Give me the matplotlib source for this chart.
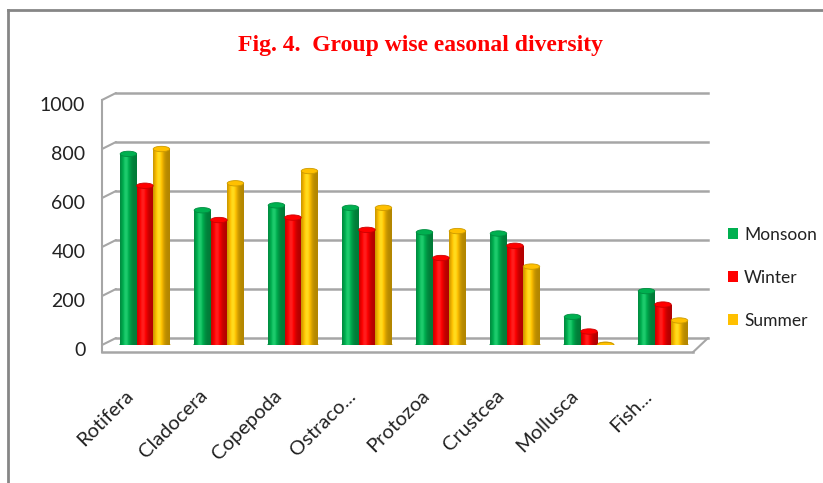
import matplotlib.pyplot as plt
import matplotlib.transforms as mtransforms
from matplotlib.patches import Ellipse, Patch
from matplotlib.lines import Line2D
import numpy as np

groups = ["Rotifera", "Cladocera", "Copepoda", "Ostraco...", "Protozoa",
          "Crustcea", "Mollusca", "Fish..."]
seasons = ["Monsoon", "Winter", "Summer"]
monsoon = [780, 550, 570, 560, 460, 455, 115, 220]
winter = [650, 510, 520, 470, 355, 405, 55, 165]
summer = [800, 660, 710, 560, 465, 320, 0, 100]
colors = ["#00B050", "#FF0000", "#FFC000"]

W, H = 823, 483
fig = plt.figure(figsize=(W / 100, H / 100), dpi=100)
ax = fig.add_axes([102 / W, (H - 345) / H, 598 / W, 245 / H])

x = np.arange(len(groups))
bw = 0.223
cap = 22  # ellipse height in data units


def shade(base):
    base = np.array(plt.matplotlib.colors.to_rgb(base))
    t = np.linspace(0, 1, 60)
    f = 0.70 + 0.42 * np.exp(-((t - 0.35) / 0.28) ** 2)
    rgb = np.clip(base[None, :] * f[:, None], 0, 1)
    hi = np.clip(f - 1.0, 0, 1)[:, None]
    rgb = rgb * (1 - hi) + hi
    return rgb[None, :, :]


for k, (vals, col) in enumerate(zip([monsoon, winter, summer], colors)):
    xs = x + (k - 1) * bw
    img = shade(col)
    dark = np.array(plt.matplotlib.colors.to_rgb(col)) * 0.8
    for xc, v in zip(xs, vals):
        ax.add_patch(Ellipse((xc, 0), bw, cap, color=dark, zorder=2.9 + k * 0.01))
        if v > 0:
            bar = ax.bar(xc, v, bw, color=col, zorder=3 + k * 0.01)[0]
            im = ax.imshow(img, extent=[xc - bw / 2, xc + bw / 2, 0, v],
                           aspect="auto", zorder=3.05 + k * 0.01)
            im.set_clip_path(bar)
        ax.add_patch(Ellipse((xc, v), bw, cap, facecolor=col, edgecolor=dark,
                             lw=0.6, zorder=3.1 + k * 0.01))

ax.set_xlim(-0.58, 7.5)
ax.set_ylim(0, 1000)
for s in ax.spines.values():
    s.set_visible(False)
ax.set_xticks([])
ax.set_yticks(range(0, 1001, 200))
ax.tick_params(axis="y", length=0, pad=12, labelsize=14)
down = mtransforms.ScaledTranslation(0, -4 / 100, fig.dpi_scale_trans)
for lab in ax.get_yticklabels():
    lab.set_fontfamily("Lato")
    lab.set_color("#222222")
    lab.set_transform(lab.get_transform() + down)

# back wall gridlines and 3D frame
grid_c = "#A6A6A6"
back = mtransforms.blended_transform_factory(ax.transAxes, ax.transData) + \
    mtransforms.ScaledTranslation(14 / 100, 7 / 100, fig.dpi_scale_trans)
front = mtransforms.blended_transform_factory(ax.transAxes, ax.transData)
for v in range(0, 1001, 200):
    ax.plot([0, 0.99], [v, v], transform=back, color=grid_c, lw=1.8,
            zorder=1, clip_on=False)
    ax.annotate("", xy=(0, v), xycoords=back, xytext=(0, v), textcoords=front,
                arrowprops=dict(arrowstyle="-", color=grid_c, lw=1.5,
                                shrinkA=0, shrinkB=0), zorder=1)
ax.plot([0, 0], [-30, 1000], transform=front, color=grid_c, lw=1.5,
        clip_on=False, zorder=1)
ax.plot([0, 0.988], [-30, -30], transform=front, color=grid_c, lw=1.8,
        clip_on=False, zorder=1)
ax.annotate("", xy=(0.988, -30), xycoords=front, xytext=(0.99, 0),
            textcoords=back,
            arrowprops=dict(arrowstyle="-", color=grid_c, lw=1.5,
                            shrinkA=0, shrinkB=0), zorder=1)

# category labels
lab_tr = mtransforms.blended_transform_factory(ax.transData, ax.transAxes) + \
    mtransforms.ScaledTranslation(-14 / 100, -48 / 100, fig.dpi_scale_trans)
for xi, g in zip(x, groups):
    ax.text(xi, 0, g, transform=lab_tr, rotation=45, ha="right", va="center",
            rotation_mode="anchor", fontsize=14.5, family="Lato",
            color="#222222")

fig.text(420 / W, 1 - 46 / H, "Fig. 4.  Group wise easonal diversity",
         ha="center", va="center", color="#FF0000", fontsize=17,
         fontweight="bold", family="Liberation Serif")

handles = [Patch(facecolor=c, edgecolor="none") for c in colors]
leg = fig.legend(handles, seasons, loc="center left",
                 bbox_to_anchor=(712 / W, 1 - 278 / H), frameon=False,
                 handlelength=0.6, handleheight=0.6, handletextpad=0.35,
                 labelspacing=1.55, prop={"family": "Lato", "size": 12.5})
for t in leg.get_texts():
    t.set_color("#222222")

# outer frame
fig.add_artist(Line2D([8 / W, 1], [1 - 10 / H, 1 - 10 / H],
                      transform=fig.transFigure, color="#868686", lw=2))
fig.add_artist(Line2D([8 / W, 8 / W], [0, 1 - 10 / H],
                      transform=fig.transFigure, color="#868686", lw=2))

fig.savefig("out.png", dpi=100)
